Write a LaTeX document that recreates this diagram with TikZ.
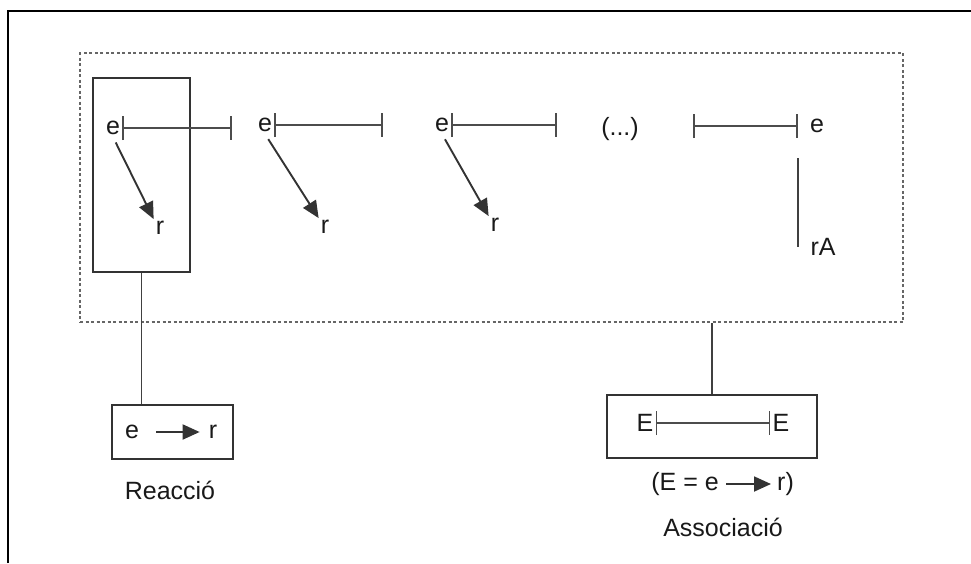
\documentclass[tikz,border=0pt]{standalone}
\usepackage{fontspec}
\setmainfont{Liberation Sans}
\usetikzlibrary{arrows.meta,calc}
\tikzset{
	lbl/.style={font=\fontsize{25}{29}\selectfont, text=black!90, inner sep=2pt},
	plain/.style={line width=1.9pt, draw=black!75},
	frame/.style={line width=2.3pt, draw=black!80, inner sep=0pt},
	barline/.style={line width=2.2pt, draw=black!70, {Bar[width=24pt,line width=1.6pt]}-{Bar[width=24pt,line width=1.6pt]}},
	reacarrow/.style={line width=1.9pt, draw=black!80, -{Triangle[length=17pt,width=15pt]}},
	dotbox/.style={draw=black!60, line width=2.8pt, dash pattern=on 3pt off 2.5pt, inner sep=0pt},
}

\begin{document}
\begin{tikzpicture}[x=1pt,y=-1pt]
			%%%%% START %%%%%
			\useasboundingbox (0,0) rectangle (971,563);
			\draw[line width=2.4pt] (8,563) -- (8,11) -- (971,11);
			
			% dotted group and its boxes
			\node[dotbox, minimum width=823pt, minimum height=269pt] (grup) at (491.5,187.5) {};
			\node[frame, minimum width=97pt, minimum height=194pt] (reac) at (141.5,175) {};
			
			% first
			\node[lbl] (e1) at (113,128) {e};
			\coordinate (b1) at (232,128);
			\draw[barline] (e1.east) -- (b1);
			\node[lbl] (r1) at (160,228) {r};
			\draw[reacarrow, shorten <=6pt] (e1.south) -- (r1.north west);
			
			% second
			\node[lbl] (e2) at (265,125) {e};
			\coordinate (b2) at (383,125);
			\draw[barline] (e2.east) -- (b2);
			\node[lbl] (r2) at (325,227) {r};
			\draw[reacarrow, shorten <=6pt] (e2.south) -- (r2.north west);
			
			% third
			\node[lbl] (e3) at (442,125) {e};
			\coordinate (b3) at (557,125);
			\draw[barline] (e3.east) -- (b3);
			\node[lbl] (r3) at (495,225) {r};
			\draw[reacarrow, shorten <=6pt] (e3.south) -- (r3.north west);
			
			\node[lbl] (punts) at (620,129) {(...)};
			
			% last
			\coordinate (a4) at (693,126);
			\coordinate (b4) at (798,126);
			\draw[barline] (a4) -- (b4);
			\node[lbl] (e4) at (817,126) {e};
			\node[lbl] (rA) at (823,247) {rA};
			\draw[plain] ($(b4)+(0,32)$) -- (b4 |- rA.center);
			
			% reaccio
			\node[frame, minimum width=121pt, minimum height=54pt] (rbox) at (172.5,432) {};
			\node[lbl] (re) at (132,432) {e};
			\node[lbl] (rr) at (213,432) {r};
			\draw[reacarrow, shorten <=15pt, shorten >=7pt] (re.east) -- (rr.west);
			\node[lbl] (reaccio) at (170,490) {Reacció};
			\draw[plain] (reac.south) -- (reac.south |- rbox.north);
			
			% associacio
			\node[frame, minimum width=210pt, minimum height=63pt] (assoc) at (712,426.5) {};
			\node[lbl] (E1) at (645,423) {E};
			\node[lbl] (E2) at (781,423) {E};
			\draw[barline] (E1.east) -- (E2.west);
			\node[lbl, anchor=east] (eqL) at (721,484) {(E = e};
			\node[lbl, anchor=west] (eqR) at (775,484) {r)};
			\draw[reacarrow, shorten <=5pt, shorten >=4pt] (eqL.east) -- (eqR.west);
			\node[lbl] (associacio) at (723,527) {Associació};
			\draw[plain] (grup.south -| assoc.north) -- (assoc.north);
			
			%%%%% END %%%%%
\end{tikzpicture}
\end{document}
